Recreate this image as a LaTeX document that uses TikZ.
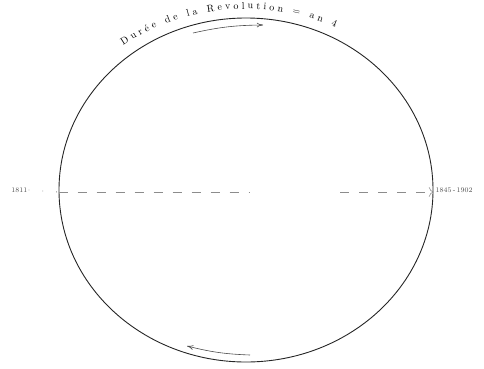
\documentclass[tikz,border=0pt]{standalone}
\usepackage{tikz}
\usetikzlibrary{positioning, arrows.meta, shapes.geometric, decorations.text}

\begin{document}
\begin{tikzpicture}[
    x=1pt, y=1pt,
    orbitline/.style={draw=black!85, line width=0.9pt},
    datum/.style={font=\scriptsize, text=black!70, inner sep=1pt},
    axisline/.style={draw=black!45, line width=0.6pt, dash pattern=on 9pt off 10pt},
    turn/.style={draw=black!70, line width=0.6pt, -{To[length=2.2mm, width=1.6mm]}}]
    \useasboundingbox (0,0) rectangle (484,368);
    % the orbit
    \node[orbitline, ellipse, minimum width=374pt, minimum height=344pt,
      inner sep=0pt] (orbit) at (246,178) {};
    \coordinate (mid)   at (250,176);
    \coordinate (rstart) at (340,176);
    \node[datum, left=30pt of orbit.west] (start) {1811};
    \node[datum, right=1pt of orbit.east] (end)  {1845\,-\,1902};
    % horizontal axis
    \draw[axisline] ([yshift=-2pt]orbit.west) -- (mid);
    \draw[draw=black!45, line width=0.8pt, dash pattern=on 0.8pt off 13pt]
      (start.east) -- ([yshift=-2pt]orbit.west);
    \draw[axisline, -{To[length=1.6mm]}] (rstart) -- ([yshift=-2pt]orbit.east);
    % direction of motion
    \coordinate (topa) at (193,335);
    \coordinate (topb) at (263,343);
    \coordinate (bota) at (250,13);
    \coordinate (botb) at (187,22);
    \draw[turn] (topa) to[bend left=6] (topb);
    \draw[turn] (bota) to[bend left=6] (botb);
    % title along the arc
    \path[decorate, decoration={text along path, text align=fit to path,
      text={|\normalsize|Durée de la Revolution = an 4}}]
      (246,178) ++(127:204 and 181) arc[start angle=127, end angle=64,
      x radius=204, y radius=181];
\end{tikzpicture}
\end{document}
